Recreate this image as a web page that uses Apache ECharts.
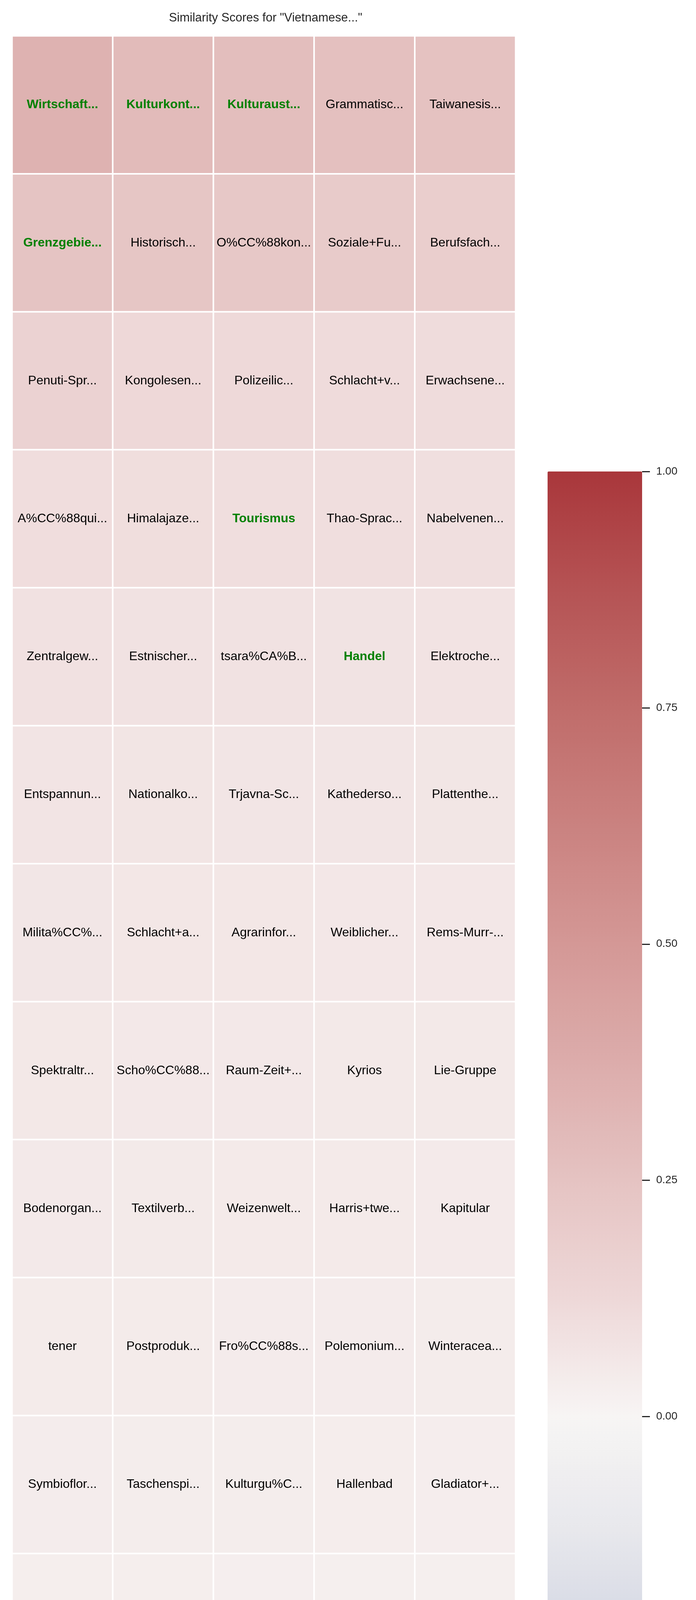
<!DOCTYPE html>
<html>
<head>
<meta charset="utf-8">
<script src="https://cdn.jsdelivr.net/npm/echarts@6/dist/echarts.min.js"></script>
<style>html,body{margin:0;padding:0;background:#fff}#chart{width:1782px;height:7189px}</style>
</head>
<body>
<div id="chart"></div>
<script>
const titleText = 'Similarity Scores for "Vietnamese..."';
const columns = ['c1','c2','c3','c4','c5'];
const rows = ['r1','r2','r3','r4','r5','r6','r7','r8','r9','r10','r11','r12','r13','r14','r15','r16','r17','r18','r19','r20'];
const cellLabels = [
  ['Wirtschaft...','Kulturkont...','Kulturaust...','Grammatisc...','Taiwanesis...'],
  ['Grenzgebie...','Historisch...','O%CC%88kon...','Soziale+Fu...','Berufsfach...'],
  ['Penuti-Spr...','Kongolesen...','Polizeilic...','Schlacht+v...','Erwachsene...'],
  ['A%CC%88qui...','Himalajaze...','Tourismus','Thao-Sprac...','Nabelvenen...'],
  ['Zentralgew...','Estnischer...','tsara%CA%B...','Handel','Elektroche...'],
  ['Entspannun...','Nationalko...','Trjavna-Sc...','Kathederso...','Plattenthe...'],
  ['Milita%CC%...','Schlacht+a...','Agrarinfor...','Weiblicher...','Rems-Murr-...'],
  ['Spektraltr...','Scho%CC%88...','Raum-Zeit+...','Kyrios','Lie-Gruppe'],
  ['Bodenorgan...','Textilverb...','Weizenwelt...','Harris+twe...','Kapitular'],
  ['tener','Postproduk...','Fro%CC%88s...','Polemonium...','Winteracea...'],
  ['Symbioflor...','Taschenspi...','Kulturgu%C...','Hallenbad','Gladiator+...'],
  ['Risikostru...','Strigol','Gna%CC%84w...','Isolineati...','Abelscher+...'],
  ['Kaliumoxid...','Valdivia+S...','Danae+Schi...','Propyphena...','Leitwerk+F...'],
  ['Betriebsla...','Trockenlau...','Ka%CC%88lt...','Pru%CC%88f...','Nitrilhydr...'],
  ['Turkvo%CC%...','Columbit','Eichfeld','Ergophthal...','Kreuzwortr...'],
  ['Skiindustr...','Brandstoff','Edelfra%CC...','Dimethylbu...','iPhone+7+P...'],
  ['Garage','Gro%C3%9Fe...','Kondensato...','Kaltstauch...','Quadrupol'],
  ['Desosamin','Versicheru...','Marienklag...','OS%2F2+2.1...','Citrix+Met...'],
  ['Wasserstof...','Minicomput...','Xylosylpro...','Geschlecht...','Protein+p5...'],
  ['Caterpilla...','Media+Play...','MSN+Messen...','Hautdesinf...','Antigen+Bm...']
];
const scores = [
  [0.342,0.293,0.277,0.266,0.255],
  [0.244,0.232,0.220,0.202,0.185],
  [0.161,0.125,0.121,0.112,0.108],
  [0.104,0.101,0.099,0.097,0.095],
  [0.085,0.082,0.080,0.078,0.076],
  [0.072,0.070,0.068,0.067,0.066],
  [0.063,0.062,0.061,0.060,0.059],
  [0.056,0.055,0.054,0.053,0.052],
  [0.050,0.049,0.048,0.047,0.046],
  [0.044,0.043,0.042,0.041,0.040],
  [0.037,0.036,0.035,0.034,0.033],
  [0.031,0.030,0.029,0.028,0.027],
  [0.025,0.024,0.023,0.022,0.021],
  [0.019,0.018,0.017,0.016,0.015],
  [0.013,0.012,0.011,0.010,0.009],
  [0.008,0.007,0.006,0.005,0.004],
  [0.003,0.002,0.001,0.000,-0.001],
  [-0.003,-0.005,-0.007,-0.010,-0.012],
  [-0.015,-0.018,-0.020,-0.025,-0.035],
  [-0.040,-0.045,-0.100,-0.105,-0.165]
];
const highlighted = ['Wirtschaft...','Kulturkont...','Kulturaust...','Grenzgebie...','Tourismus','Handel'];
const colorbarTicks = [-1,-0.75,-0.5,-0.25,0,0.25,0.5,0.75,1];
const vlagStops = [
  '#2369bd','#4479be','#668cc0','#809dc7','#99adcd','#b4c0d7','#d0d5e2','#e7e7ec',
  '#f7f5f4',
  '#eed8d8','#e5c3c2','#dcacab','#d49896','#ca8280','#c06c6a','#b55354','#a9373b'
];

const FONT = '"Liberation Sans", Arial, Helvetica, sans-serif';
const data = [];
for (let r = 0; r < rows.length; r++) {
  for (let c = 0; c < columns.length; c++) {
    const name = cellLabels[r][c];
    const item = { value: [c, r, scores[r][c]], name: name };
    if (highlighted.indexOf(name) >= 0) {
      item.label = { color: '#008000', fontWeight: 'bold' };
    }
    data.push(item);
  }
}

const chart = echarts.init(document.getElementById('chart'), null, { renderer: 'canvas' });
chart.setOption({
  backgroundColor: '#ffffff',
  animation: false,
  title: {
    text: titleText,
    left: 675,
    top: 26,
    textAlign: 'center',
    textStyle: { fontFamily: FONT, fontSize: 31, fontWeight: 'normal', color: '#262626' }
  },
  grid: [
    { left: 31, top: 92, width: 1289, height: 7064, containLabel: false },
    { left: 1402, top: 1207, width: 242, height: 4839, containLabel: false }
  ],
  xAxis: [
    { type: 'category', data: columns, gridIndex: 0, show: false },
    { type: 'category', data: ['bar'], gridIndex: 1, show: false }
  ],
  yAxis: [
    { type: 'category', data: rows, gridIndex: 0, show: false, inverse: true },
    {
      type: 'value', gridIndex: 1, min: -1, max: 1, interval: 0.25, position: 'right',
      show: true,
      axisLine: { show: true, onZero: false, lineStyle: { color: 'rgba(0,0,0,0)', width: 0 } },
      splitLine: { show: false },
      axisTick: { show: true, inside: false, length: 20, lineStyle: { color: '#262626', width: 3 } },
      axisLabel: {
        show: true, margin: 36, fontFamily: FONT, fontSize: 28, color: '#262626',
        formatter: function (v) { const s = Math.abs(v).toFixed(2); return v < 0 ? '\u2212' + s : s; }
      },
      z: 10
    }
  ],
  visualMap: {
    type: 'continuous',
    min: -1, max: 1,
    seriesIndex: 0,
    calculable: false,
    hoverLink: false,
    orient: 'vertical',
    left: 1402, top: 1207,
    itemWidth: 242, itemHeight: 4839,
    padding: 0,
    text: null,
    showLabel: false,
    z: 1,
    inRange: { color: vlagStops }
  },
  series: [{
    type: 'heatmap',
    xAxisIndex: 0, yAxisIndex: 0,
    data: data,
    itemStyle: { borderColor: '#ffffff', borderWidth: 4 },
    label: {
      show: true, formatter: '{b}', fontFamily: FONT, fontSize: 32, color: '#000000'
    },
    emphasis: { disabled: true }
  }]
});
</script>
</body>
</html>
